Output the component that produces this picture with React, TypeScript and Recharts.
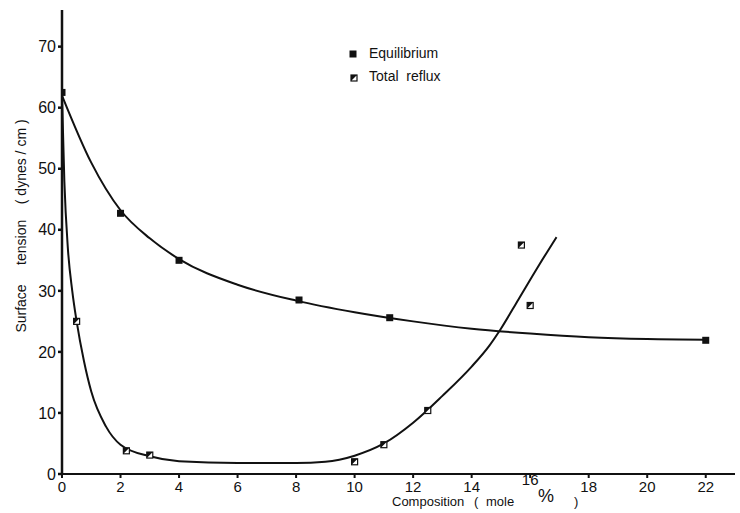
import {
  ComposedChart,
  Line,
  Scatter,
  XAxis,
  YAxis
} from "recharts";

const xTicks = [0, 2, 4, 6, 8, 10, 12, 14, 16, 18, 20, 22];
const yTicks = [0, 10, 20, 30, 40, 50, 60, 70];

// measured points
const equilibriumPoints = [
  { x: 0, y: 62.5 },
  { x: 2, y: 42.7 },
  { x: 4, y: 35.0 },
  { x: 8.1, y: 28.5 },
  { x: 11.2, y: 25.6 },
  { x: 22, y: 21.9 }
];

const refluxPoints = [
  { x: 0.5, y: 25 },
  { x: 2.2, y: 3.8 },
  { x: 3, y: 3.1 },
  { x: 10, y: 2.0 },
  { x: 11, y: 4.8 },
  { x: 12.5, y: 10.4 },
  { x: 15.7, y: 37.5 },
  { x: 16, y: 27.6 }
];

// hand-drawn fitted curves
const equilibriumCurve = [
  { x: 0, y: 62 },
  { x: 1, y: 51 },
  { x: 2, y: 43.2 },
  { x: 3, y: 38.6 },
  { x: 4, y: 35.2 },
  { x: 6, y: 31 },
  { x: 8, y: 28.4 },
  { x: 10, y: 26.5 },
  { x: 12, y: 25 },
  { x: 14, y: 23.8 },
  { x: 16, y: 23 },
  { x: 18, y: 22.4 },
  { x: 20, y: 22.1 },
  { x: 22, y: 22 }
];

const refluxCurve = [
  { x: 0, y: 62 },
  { x: 0.08, y: 48 },
  { x: 0.2, y: 37 },
  { x: 0.35, y: 30 },
  { x: 0.5, y: 25 },
  { x: 0.75, y: 18.5 },
  { x: 1, y: 13.5 },
  { x: 1.5, y: 7.8 },
  { x: 2, y: 4.8 },
  { x: 3, y: 2.9 },
  { x: 4, y: 2.1 },
  { x: 6, y: 1.8 },
  { x: 8, y: 1.8 },
  { x: 9, y: 2.0 },
  { x: 10, y: 3.0 },
  { x: 11, y: 5.0 },
  { x: 12, y: 8.4 },
  { x: 13, y: 12.8 },
  { x: 14, y: 17.6 },
  { x: 14.6, y: 21 },
  { x: 15, y: 23.8 },
  { x: 15.6, y: 28.6 },
  { x: 16.3, y: 34.2 },
  { x: 16.9, y: 38.8 }
];

const seriesNames = ["Equilibrium", "Total  reflux"];

const font = "'Liberation Sans', Arial, sans-serif";
const ink = "#111";

function SolidSquare(props: any) {
  const { cx, cy } = props;
  return <rect x={cx - 3.5} y={cy - 3.5} width={7} height={7} fill={ink} />;
}

function HalfSquare(props: any) {
  const { cx, cy } = props;
  return (
    <g>
      <rect x={cx - 3} y={cy - 3} width={6} height={6} fill="#fff" stroke={ink} strokeWidth={1.2} />
      <path d={`M${cx - 3},${cy - 3} L${cx + 3},${cy - 3} L${cx - 3},${cy + 3} Z`} fill={ink} />
    </g>
  );
}

function LegendBox() {
  return (
    <div
      style={{
        position: "absolute",
        left: 347,
        top: 42,
        fontFamily: font,
        fontSize: 14,
        color: ink,
        lineHeight: "23px"
      }}
    >
      {seriesNames.map((name, i) => (
        <div key={name} style={{ display: "flex", alignItems: "center", height: 23 }}>
          <svg width={14} height={23}>
            {i === 0 ? <SolidSquare cx={6} cy={12} /> : <HalfSquare cx={7} cy={13} />}
          </svg>
          <span style={{ marginLeft: 8, whiteSpace: "pre" }}>{name}</span>
        </div>
      ))}
    </div>
  );
}

// "16" sits a little higher than the rest in the original
function XTick(props: any) {
  const { x, y, payload } = props;
  const lift = payload.value === 16 ? -7 : 0;
  return (
    <text x={x} y={y + lift} dy={12} textAnchor="middle" fontFamily={font} fontSize={15} fill={ink}>
      {payload.value}
    </text>
  );
}

function XLabel() {
  return (
    <text y={506} fontFamily={font} fontSize={13} fill={ink}>
      <tspan x={392}>Composition</tspan>
      <tspan x={474}>(</tspan>
      <tspan x={486}>mole</tspan>
      <tspan x={538} fontSize={18} dy={-4}>%</tspan>
      <tspan x={574} dy={4}>)</tspan>
    </text>
  );
}

function YLabel() {
  return (
    <text
      x={0}
      y={0}
      transform="translate(26, 226) rotate(-90)"
      textAnchor="middle"
      fontFamily={font}
      fontSize={14}
      fill={ink}
      style={{ whiteSpace: "pre" }}
    >
      {"Surface     tension    ( dynes / cm )"}
    </text>
  );
}

export default function App() {
  return (
    <div style={{ position: "absolute", left: 0, top: 0, width: 740, height: 513, background: "#fff" }}>
      <ComposedChart width={740} height={513} margin={{ top: 10, right: 5, bottom: 0, left: 22 }}>
        <XAxis
          type="number"
          dataKey="x"
          domain={[0, 23]}
          ticks={xTicks}
          allowDataOverflow
          stroke={ink}
          strokeWidth={2}
          tickSize={4}
          tickMargin={2}
          height={39}
          tick={<XTick />}
        />
        <YAxis
          type="number"
          dataKey="y"
          domain={[0, 76]}
          ticks={yTicks}
          allowDataOverflow
          stroke={ink}
          strokeWidth={2.5}
          tickSize={4}
          tickMargin={2}
          width={40}
          tick={{ fontFamily: font, fontSize: 16, fill: ink }}
        />
        <Line
          data={equilibriumCurve}
          dataKey="y"
          type="monotone"
          stroke={ink}
          strokeWidth={2}
          dot={false}
          activeDot={false}
          legendType="none"
          isAnimationActive={false}
        />
        <Line
          data={refluxCurve}
          dataKey="y"
          type="monotone"
          stroke={ink}
          strokeWidth={2}
          dot={false}
          activeDot={false}
          legendType="none"
          isAnimationActive={false}
        />
        <Scatter name="Equilibrium" data={equilibriumPoints} shape={<SolidSquare />} isAnimationActive={false} />
        <Scatter name="Total reflux" data={refluxPoints} shape={<HalfSquare />} isAnimationActive={false} />
        <XLabel />
        <YLabel />
      </ComposedChart>
      <LegendBox />
    </div>
  );
}
